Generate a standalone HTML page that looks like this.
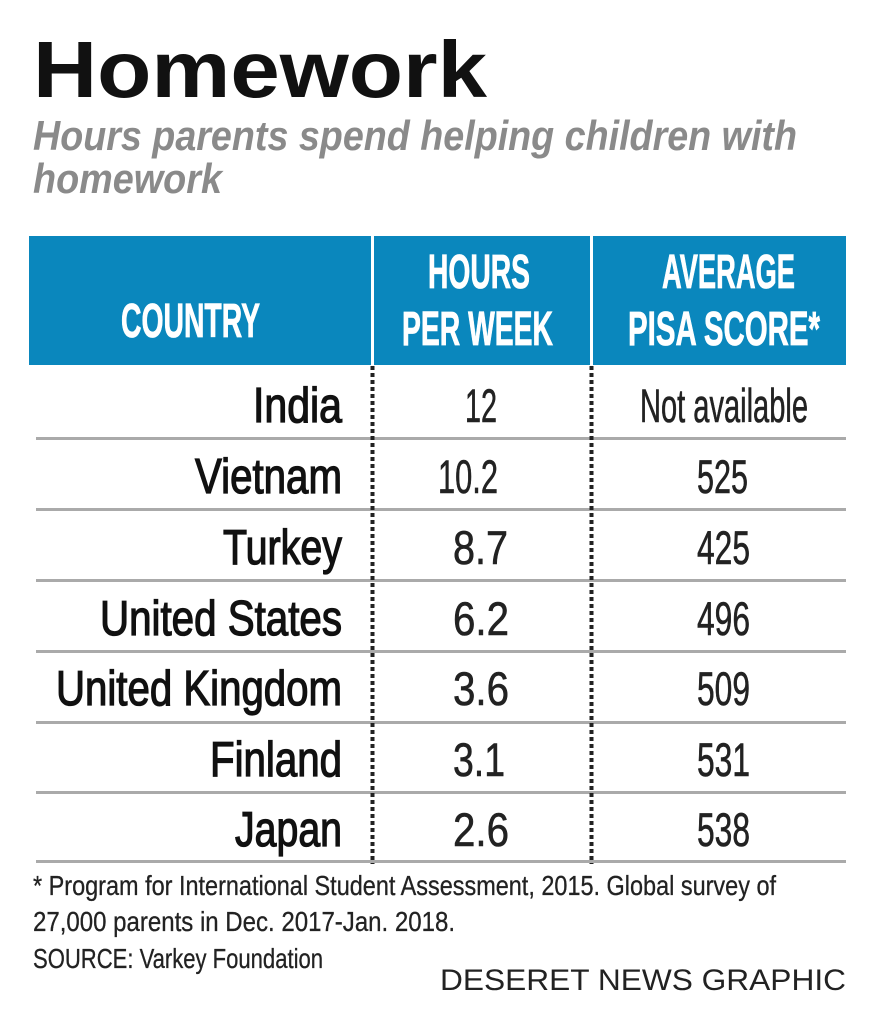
<!DOCTYPE html>
<html><head><meta charset="utf-8"><style>
html,body{margin:0;padding:0;background:#fff;}
svg{display:block;}
text{font-family:"Liberation Sans Narrow","Liberation Sans",sans-serif;}
</style></head><body>
<svg width="880" height="1024" viewBox="0 0 880 1024" xmlns="http://www.w3.org/2000/svg">
<rect width="880" height="1024" fill="#fff"/>
<text x="33" y="97" font-size="80" font-weight="bold" fill="#111" textLength="454" lengthAdjust="spacingAndGlyphs" style="font-family:'Liberation Sans',sans-serif">Homework</text>
<g fill="#8a8a8a" font-size="42" font-style="italic" font-weight="bold" style="font-family:'Liberation Sans',sans-serif">
<text x="33" y="150" textLength="764" lengthAdjust="spacingAndGlyphs">Hours parents spend helping children with</text>
<text x="33" y="193" textLength="189" lengthAdjust="spacingAndGlyphs">homework</text>
</g>
<rect x="29" y="236" width="817" height="129" fill="#0a87bd"/>
<rect x="371" y="236" width="3" height="129" fill="#fff"/>
<rect x="590" y="236" width="3" height="129" fill="#fff"/>
<g fill="#fff" font-weight="bold" font-size="48" stroke="#fff" stroke-width="0.8">
<text x="121" y="337" textLength="139" lengthAdjust="spacingAndGlyphs">COUNTRY</text>
<text x="428" y="288" textLength="102" lengthAdjust="spacingAndGlyphs">HOURS</text>
<text x="402" y="345" textLength="151" lengthAdjust="spacingAndGlyphs">PER WEEK</text>
<text x="662" y="288" textLength="133" lengthAdjust="spacingAndGlyphs">AVERAGE</text>
<text x="628" y="345" textLength="192" lengthAdjust="spacingAndGlyphs">PISA SCORE*</text>
</g>
<g fill="#aaa">
<rect x="36" y="437" width="810" height="3"/>
<rect x="36" y="508" width="810" height="3"/>
<rect x="36" y="579" width="810" height="3"/>
<rect x="36" y="650" width="810" height="3"/>
<rect x="36" y="721" width="810" height="3"/>
<rect x="36" y="791" width="810" height="3"/>
<rect x="36" y="860" width="810" height="3"/>
</g>
<line x1="372.5" y1="366" x2="372.5" y2="864" stroke="#222" stroke-width="4" stroke-dasharray="4,3"/>
<line x1="591.5" y1="366" x2="591.5" y2="864" stroke="#222" stroke-width="4" stroke-dasharray="4,3"/>
<g fill="#111" font-size="49" stroke="#111" stroke-width="1.3">
<text x="253" y="422" textLength="89" lengthAdjust="spacingAndGlyphs">India</text>
<text x="195" y="493" textLength="147" lengthAdjust="spacingAndGlyphs">Vietnam</text>
<text x="223" y="564" textLength="119" lengthAdjust="spacingAndGlyphs">Turkey</text>
<text x="100" y="635" textLength="242" lengthAdjust="spacingAndGlyphs">United States</text>
<text x="56" y="705" textLength="286" lengthAdjust="spacingAndGlyphs">United Kingdom</text>
<text x="210" y="776" textLength="132" lengthAdjust="spacingAndGlyphs">Finland</text>
<text x="235" y="846" textLength="107" lengthAdjust="spacingAndGlyphs">Japan</text>
</g>
<g fill="#222" font-size="47" stroke="#222" stroke-width="0.6">
<text x="465" y="422" textLength="32" lengthAdjust="spacingAndGlyphs">12</text>
<text x="438" y="493" textLength="60" lengthAdjust="spacingAndGlyphs">10.2</text>
<text x="453" y="564" textLength="55" lengthAdjust="spacingAndGlyphs">8.7</text>
<text x="453" y="635" textLength="56" lengthAdjust="spacingAndGlyphs">6.2</text>
<text x="453" y="705" textLength="56" lengthAdjust="spacingAndGlyphs">3.6</text>
<text x="453" y="776" textLength="52" lengthAdjust="spacingAndGlyphs">3.1</text>
<text x="453" y="846" textLength="56" lengthAdjust="spacingAndGlyphs">2.6</text>
<text x="640" y="422" textLength="168" lengthAdjust="spacingAndGlyphs">Not available</text>
<text x="697" y="493" textLength="51" lengthAdjust="spacingAndGlyphs">525</text>
<text x="697" y="564" textLength="53" lengthAdjust="spacingAndGlyphs">425</text>
<text x="697" y="635" textLength="53" lengthAdjust="spacingAndGlyphs">496</text>
<text x="697" y="705" textLength="53" lengthAdjust="spacingAndGlyphs">509</text>
<text x="697" y="776" textLength="53" lengthAdjust="spacingAndGlyphs">531</text>
<text x="697" y="846" textLength="53" lengthAdjust="spacingAndGlyphs">538</text>
</g>
<g fill="#222" font-size="28" stroke="#222" stroke-width="0.3">
<text x="33" y="895" textLength="743" lengthAdjust="spacingAndGlyphs">* Program for International Student Assessment, 2015. Global survey of</text>
<text x="33" y="931" textLength="422" lengthAdjust="spacingAndGlyphs">27,000 parents in Dec. 2017-Jan. 2018.</text>
<text x="33" y="968" textLength="290" lengthAdjust="spacingAndGlyphs">SOURCE: Varkey Foundation</text>
</g>
<text x="440" y="990" font-size="30" fill="#222" textLength="406" lengthAdjust="spacingAndGlyphs" style="font-family:'Liberation Sans',sans-serif">DESERET NEWS GRAPHIC</text>
</svg>
</body></html>
